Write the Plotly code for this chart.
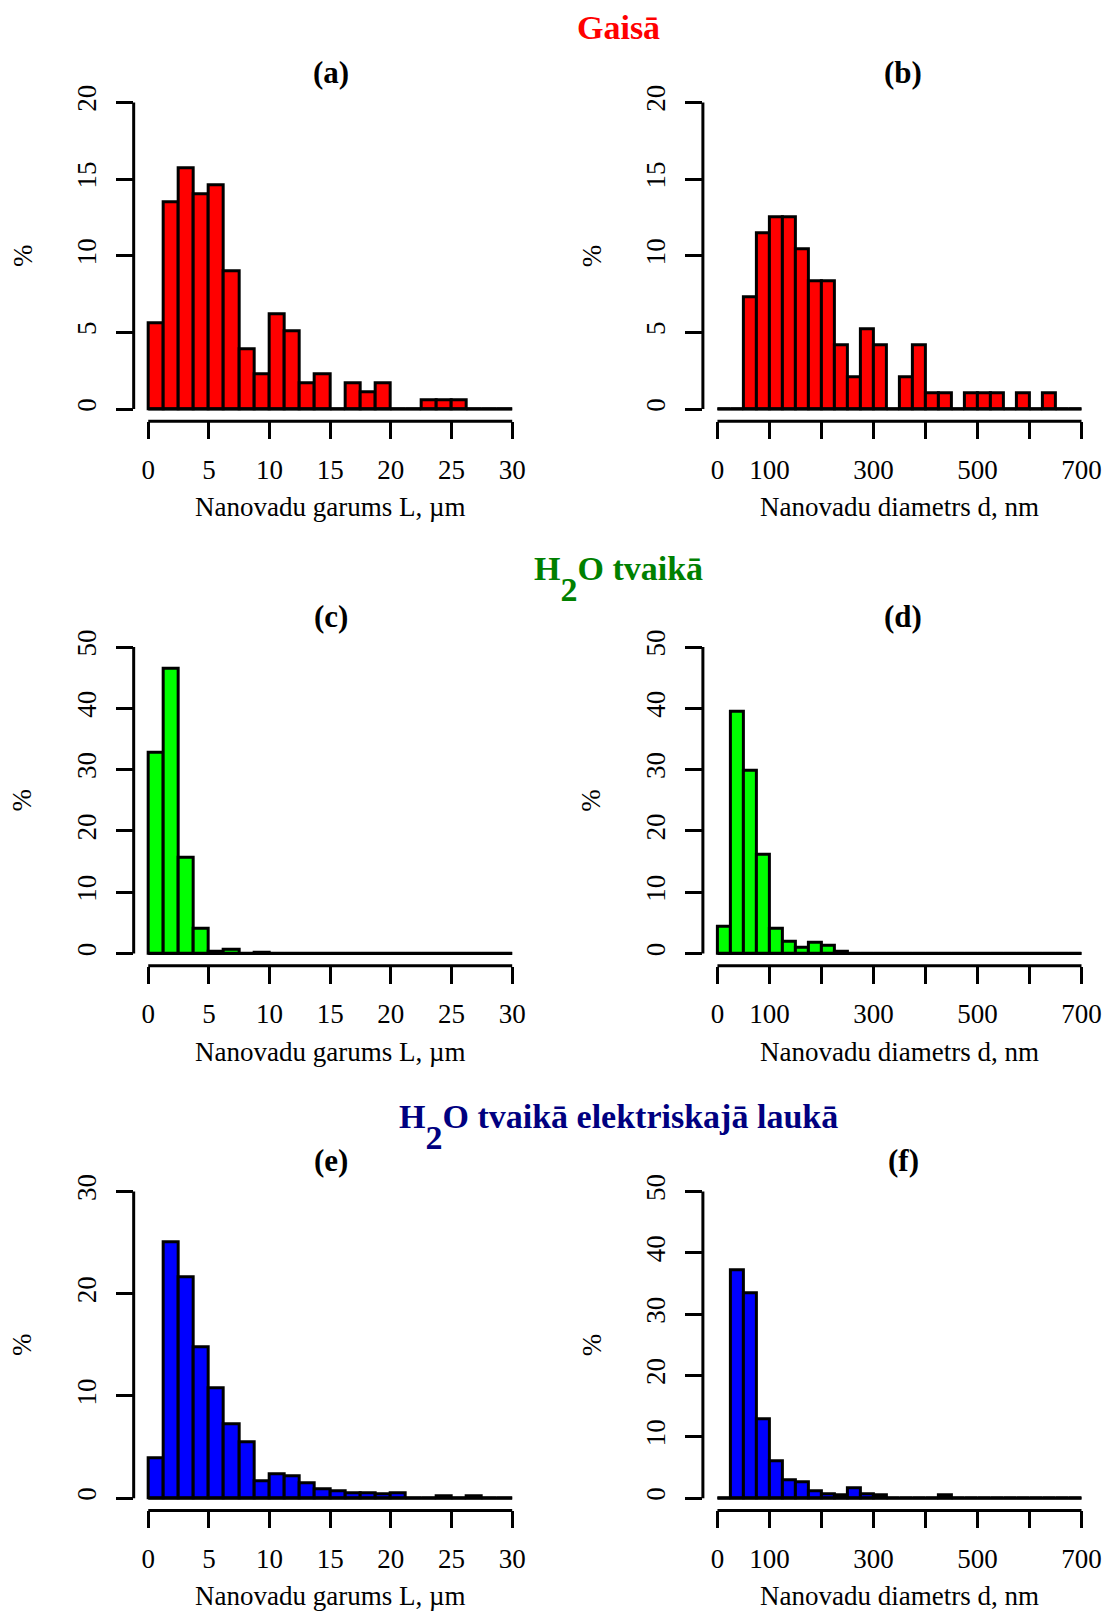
import plotly.graph_objects as go

# ---------------- data (percent per bin) ----------------
L_edges = [0, 1.25, 2.5, 3.75, 5, 6.25, 7.5, 8.75, 10, 11.25, 12.5, 13.75, 15,
           16.25, 17.5, 18.75, 20, 21.25, 22.5, 23.75, 25, 26.25, 27.5, 28.75, 30]
d_edges = [0, 25, 50, 75, 100, 125, 150, 175, 200, 225, 250, 275, 300, 325, 350,
           375, 400, 425, 450, 475, 500, 525, 550, 575, 600, 625, 650, 675, 700]

a_pct = [5.62, 13.48, 15.73, 14.04, 14.61, 8.99, 3.93, 2.25, 6.18, 5.06, 1.69, 2.25,
         0, 1.69, 1.12, 1.69, 0, 0, 0.56, 0.56, 0.56, 0, 0, 0]
b_pct = [0, 0, 7.29, 11.46, 12.50, 12.50, 10.42, 8.33, 8.33, 4.17, 2.08, 5.21, 4.17,
         0, 2.08, 4.17, 1.04, 1.04, 0, 1.04, 1.04, 1.04, 0, 1.04, 0, 1.04, 0, 0]
c_pct = [32.8, 46.4, 15.7, 4.0, 0.35, 0.55, 0, 0.2, 0, 0, 0, 0,
         0, 0, 0, 0, 0, 0, 0, 0, 0, 0, 0, 0]
d_pct = [4.4, 39.4, 29.8, 16.1, 4.1, 2.0, 0.95, 1.7, 1.25, 0.35, 0, 0, 0, 0,
         0, 0, 0, 0, 0, 0, 0, 0, 0, 0, 0, 0, 0, 0]
e_pct = [3.86, 25.0, 21.65, 14.8, 10.75, 7.25, 5.45, 1.62, 2.32, 2.15, 1.5, 0.9,
         0.68, 0.52, 0.52, 0.42, 0.52, 0, 0, 0.18, 0, 0.18, 0, 0]
f_pct = [0, 37.2, 33.4, 12.8, 6.0, 2.9, 2.6, 1.15, 0.7, 0.4, 1.6, 0.7, 0.4, 0,
         0, 0, 0, 0.4, 0, 0, 0, 0, 0, 0, 0, 0, 0, 0]

L_ticks = [0, 5, 10, 15, 20, 25, 30]
L_ticktext = ["0", "5", "10", "15", "20", "25", "30"]
d_ticks = [0, 100, 200, 300, 400, 500, 600, 700]
d_ticktext = ["0", "100", "", "300", "", "500", "", "700"]

y20 = [0, 5, 10, 15, 20]
y50 = [0, 10, 20, 30, 40, 50]
y30 = [0, 10, 20, 30]

panel_labels = ["(a)", "(b)", "(c)", "(d)", "(e)", "(f)"]
group_titles = ["Gaisā", "H<span style='baseline-shift:-0.62em'>2</span>O tvaikā",
                "H<span style='baseline-shift:-0.62em'>2</span>O tvaikā elektriskajā laukā"]
group_colors = ["#FF0000", "#008000", "#000080"]
xlabel_L = "Nanovadu garums L, µm"
xlabel_d = "Nanovadu diametrs d, nm"
ylabel = "%"

# ---------------- layout geometry ----------------
W, H = 1113, 1613
FONT = "Liberation Serif"
col_px = [(134.4, 529.6), (706.7, 1102.0)]
row_px = [(85.4, 417.6), (631.7, 963.8), (1177.9, 1510.1)]
row_title_y = [23, 576, 1125]
row_label_y = [68, 613, 1159]
row_xtitle_y = [504, 1050, 1596]
col_label_dx = [1, 4]

panels = [
    dict(edges=L_edges, pct=a_pct, color="#FF0000", yt=y20, xt=L_ticks, xtt=L_ticktext, xl=xlabel_L),
    dict(edges=d_edges, pct=b_pct, color="#FF0000", yt=y20, xt=d_ticks, xtt=d_ticktext, xl=xlabel_d),
    dict(edges=L_edges, pct=c_pct, color="#00FF00", yt=y50, xt=L_ticks, xtt=L_ticktext, xl=xlabel_L),
    dict(edges=d_edges, pct=d_pct, color="#00FF00", yt=y50, xt=d_ticks, xtt=d_ticktext, xl=xlabel_d),
    dict(edges=L_edges, pct=e_pct, color="#0000FF", yt=y30, xt=L_ticks, xtt=L_ticktext, xl=xlabel_L),
    dict(edges=d_edges, pct=f_pct, color="#0000FF", yt=y50, xt=d_ticks, xtt=d_ticktext, xl=xlabel_d),
]

fig = go.Figure()
layout = dict(width=W, height=H, margin=dict(l=0, r=0, t=0, b=0),
              paper_bgcolor="white", plot_bgcolor="white", showlegend=False,
              font=dict(family=FONT, color="black"), bargap=0)
shapes = []
annotations = []
LW = 3
TICKFONT = 27

for i, p in enumerate(panels):
    r, c = divmod(i, 2)
    n = i + 1
    xa = "x" if n == 1 else f"x{n}"
    ya = "y" if n == 1 else f"y{n}"
    edges = p["edges"]
    centers = [(edges[k] + edges[k + 1]) / 2 for k in range(len(edges) - 1)]
    widths = [edges[k + 1] - edges[k] for k in range(len(edges) - 1)]
    fig.add_trace(go.Bar(x=centers, y=p["pct"], width=widths, xaxis=xa, yaxis=ya,
                         marker=dict(color=p["color"], line=dict(color="black", width=LW)),
                         hoverinfo="x+y"))
    xspan = p["xt"][-1] - p["xt"][0]
    yspan = p["yt"][-1] - p["yt"][0]
    x0, x1 = col_px[c]
    yt_px, yb_px = row_px[r]
    layout["xaxis" if n == 1 else f"xaxis{n}"] = dict(
        domain=[x0 / W, x1 / W], anchor=ya,
        range=[p["xt"][0] - 0.04 * xspan, p["xt"][-1] + 0.04 * xspan],
        showgrid=False, zeroline=False, showline=False,
        tickmode="array", tickvals=p["xt"], ticktext=p["xtt"],
        ticks="outside", ticklen=17, tickwidth=LW, tickcolor="black",
        tickfont=dict(family=FONT, size=TICKFONT, color="black"),
        ticklabelstandoff=7, fixedrange=True)
    layout["yaxis" if n == 1 else f"yaxis{n}"] = dict(
        domain=[1 - yb_px / H, 1 - yt_px / H], anchor=xa,
        range=[p["yt"][0] - 0.04 * yspan, p["yt"][-1] + 0.04 * yspan],
        showgrid=False, zeroline=False, showline=False,
        tickmode="array", tickvals=p["yt"], ticktext=[str(v) for v in p["yt"]],
        ticks="outside", ticklen=17, tickwidth=LW, tickcolor="black", tickangle=-90,
        tickfont=dict(family=FONT, size=TICKFONT, color="black"),
        ticklabelstandoff=9, fixedrange=True)
    # R-style axis lines spanning first..last tick
    shapes.append(dict(type="line", xref=xa, yref=f"{ya} domain", x0=p["xt"][0], x1=p["xt"][-1],
                       y0=0, y1=0, line=dict(color="black", width=LW)))
    shapes.append(dict(type="line", xref=f"{xa} domain", yref=ya, x0=0, x1=0,
                       y0=p["yt"][0], y1=p["yt"][-1], line=dict(color="black", width=LW)))
    # histogram baseline across all bins (empty bins drawn as flat rectangles)
    shapes.append(dict(type="line", xref=xa, yref=ya, x0=edges[0], x1=edges[-1], y0=0, y1=0,
                       line=dict(color="black", width=LW), layer="above"))
    cx = (x0 + x1) / 2
    annotations.append(dict(text=f"<b>{panel_labels[i]}</b>", x=(cx + col_label_dx[c]) / W,
                            y=1 - row_label_y[r] / H,
                            xref="paper", yref="paper", showarrow=False, xanchor="center",
                            yanchor="middle", font=dict(family=FONT, size=31, color="black")))
    annotations.append(dict(text=p["xl"], x=cx / W, y=1 - row_xtitle_y[r] / H,
                            xref="paper", yref="paper", showarrow=False, xanchor="center",
                            yanchor="middle", font=dict(family=FONT, size=TICKFONT, color="black")))
    annotations.append(dict(text=ylabel, x=(x0 - 112) / W, y=1 - (yt_px + yb_px) / 2 / H,
                            xref="paper", yref="paper", showarrow=False, xanchor="center",
                            yanchor="middle", textangle=-90,
                            font=dict(family=FONT, size=TICKFONT, color="black")))

for r in range(3):
    annotations.append(dict(text=f"<b>{group_titles[r]}</b>", x=622 / W, y=1 - row_title_y[r] / H,
                            xref="paper", yref="paper", showarrow=False, xanchor="center",
                            yanchor="middle", font=dict(family=FONT, size=34, color=group_colors[r])))

layout["shapes"] = shapes
layout["annotations"] = annotations
fig.update_layout(**layout)
fig.write_html("out.html")
